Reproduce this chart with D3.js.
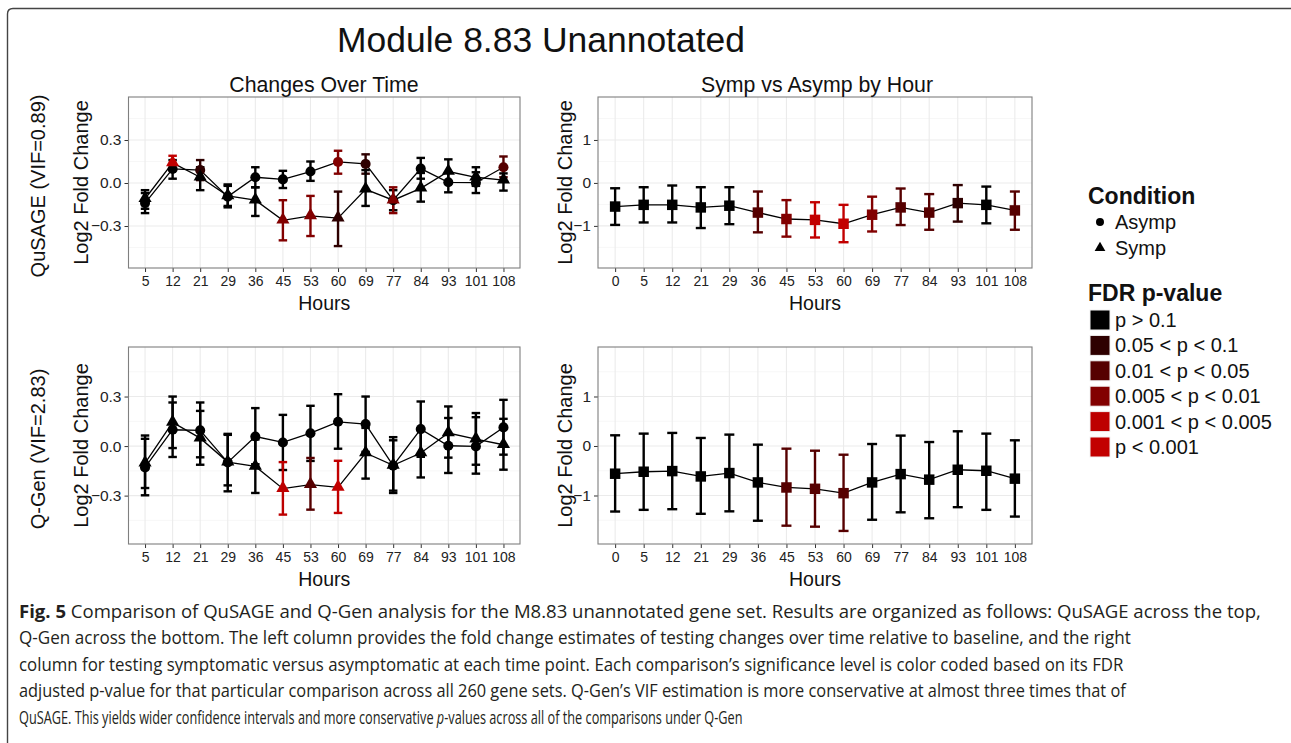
<!DOCTYPE html>
<html>
<head>
<meta charset="utf-8">
<script src="https://cdn.jsdelivr.net/npm/d3@7"></script>
<style>
  html, body { margin: 0; padding: 0; background: #fff; }
  svg { display: block; }
  text { font-family: "Liberation Sans", Arial, Helvetica, sans-serif; }
</style>
</head>
<body>
<svg id="chart" width="1291" height="743"></svg>
<script>
// ---------------- DATA ----------------
const hoursTime = [5, 12, 21, 29, 36, 45, 53, 60, 69, 77, 84, 93, 101, 108];
const hoursHour = [0, 5, 12, 21, 29, 36, 45, 53, 60, 69, 77, 84, 93, 101, 108];

const fdrLabels = ["p > 0.1", "0.05 < p < 0.1", "0.01 < p < 0.05", "0.005 < p < 0.01", "0.001 < p < 0.005", "p < 0.001"];
const fdrColors = ["#000000", "#2e0000", "#560000", "#820000", "#bd0000", "#c20000"];
const conditionLabels = ["Asymp", "Symp"];

const leftTicks = [-0.3, 0.0, 0.3];
const leftMinor = [-0.45, -0.15, 0.15, 0.45];
const rightTicks = [-1, 0, 1];
const rightMinor = [-1.5, -0.5, 0.5, 1.5];

// QuSAGE – changes over time
const quAsympEst = [-0.14, 0.098, 0.09, -0.095, 0.04, 0.025, 0.08, 0.147, 0.133, -0.12, 0.10, 0.005, 0.002, 0.11];
const quAsympLo  = [-0.21, 0.03, 0.02, -0.17, -0.03, -0.035, 0.015, 0.065, 0.065, -0.19, 0.03, -0.065, -0.07, 0.04];
const quAsympHi  = [-0.07, 0.16, 0.16, -0.02, 0.11, 0.085, 0.15, 0.225, 0.20, -0.05, 0.175, 0.075, 0.075, 0.185];
const quAsympFdr = [0, 0, 1, 0, 0, 0, 0, 3, 1, 0, 0, 0, 0, 2];

const quSympEst = [-0.11, 0.14, 0.04, -0.09, -0.12, -0.26, -0.23, -0.245, -0.044, -0.12, -0.037, 0.08, 0.04, 0.02];
const quSympLo  = [-0.18, 0.09, -0.05, -0.16, -0.23, -0.40, -0.37, -0.44, -0.16, -0.21, -0.13, 0.0, -0.02, -0.053];
const quSympHi  = [-0.05, 0.19, 0.11, -0.01, -0.03, -0.12, -0.09, -0.06, 0.09, -0.03, 0.07, 0.165, 0.11, 0.067];
const quSympFdr = [0, 5, 0, 0, 0, 3, 3, 1, 0, 3, 0, 0, 0, 0];

// Q-Gen – changes over time
const qgAsympEst = [-0.129, 0.099, 0.095, -0.099, 0.058, 0.022, 0.078, 0.147, 0.133, -0.119, 0.103, 0.002, -0.002, 0.113];
const qgAsympLo  = [-0.298, -0.066, -0.113, -0.274, -0.11, -0.145, -0.09, -0.016, -0.035, -0.284, -0.065, -0.163, -0.167, -0.052];
const qgAsympHi  = [0.044, 0.264, 0.264, 0.074, 0.23, 0.189, 0.244, 0.314, 0.30, 0.054, 0.27, 0.17, 0.175, 0.28];
const qgAsympFdr = [0, 0, 0, 0, 0, 0, 0, 0, 0, 0, 0, 0, 0, 0];

const qgSympEst = [-0.103, 0.143, 0.048, -0.097, -0.123, -0.258, -0.234, -0.25, -0.042, -0.117, -0.042, 0.079, 0.042, 0.008];
const qgSympLo  = [-0.254, -0.012, -0.068, -0.238, -0.284, -0.415, -0.385, -0.405, -0.197, -0.27, -0.19, -0.07, -0.113, -0.143];
const qgSympHi  = [0.064, 0.30, 0.213, 0.068, 0.04, -0.097, -0.072, -0.089, 0.11, 0.035, 0.105, 0.24, 0.20, 0.165];
const qgSympFdr = [0, 0, 0, 0, 0, 4, 2, 5, 0, 0, 0, 0, 0, 0];

// QuSAGE – symp vs asymp by hour
const quDiffEst = [-0.55, -0.51, -0.51, -0.57, -0.53, -0.69, -0.84, -0.86, -0.95, -0.74, -0.57, -0.69, -0.47, -0.51, -0.64];
const quDiffLo  = [-0.977, -0.92, -0.92, -1.05, -0.96, -1.15, -1.25, -1.27, -1.38, -1.13, -0.98, -1.09, -0.90, -0.94, -1.09];
const quDiffHi  = [-0.124, -0.10, -0.06, -0.10, -0.10, -0.20, -0.40, -0.45, -0.51, -0.32, -0.13, -0.26, -0.05, -0.085, -0.20];
const quDiffFdr = [0, 0, 0, 0, 0, 2, 3, 5, 5, 3, 2, 2, 1, 0, 2];

// Q-Gen – symp vs asymp by hour
const qgDiffEst = [-0.56, -0.52, -0.507, -0.615, -0.547, -0.736, -0.838, -0.865, -0.953, -0.736, -0.568, -0.68, -0.48, -0.50, -0.66];
const qgDiffLo  = [-1.324, -1.29, -1.277, -1.37, -1.32, -1.51, -1.61, -1.63, -1.716, -1.49, -1.34, -1.46, -1.236, -1.29, -1.426];
const qgDiffHi  = [0.216, 0.25, 0.264, 0.162, 0.23, 0.027, -0.054, -0.095, -0.176, 0.04, 0.21, 0.08, 0.297, 0.25, 0.115];
const qgDiffFdr = [0, 0, 0, 0, 0, 0, 2, 2, 2, 0, 0, 0, 0, 0, 0];

const captionLines = [
  [{t: "Fig. 5", b: true}, {t: " Comparison of QuSAGE and Q-Gen analysis for the M8.83 unannotated gene set. Results are organized as follows: QuSAGE across the top,"}],
  [{t: "Q-Gen across the bottom. The left column provides the fold change estimates of testing changes over time relative to baseline, and the right"}],
  [{t: "column for testing symptomatic versus asymptomatic at each time point. Each comparison\u2019s significance level is color coded based on its FDR"}],
  [{t: "adjusted p-value for that particular comparison across all 260 gene sets. Q-Gen\u2019s VIF estimation is more conservative at almost three times that of"}],
  [{t: "QuSAGE. This yields wider confidence intervals and more conservative "}, {t: "p", i: true}, {t: "-values across all of the comparisons under Q-Gen"}]
];
const captionEnds = [1262, 1131, 1124, 1127, 743];

// ---------------- DRAWING ----------------
const svg = d3.select("#chart");

// figure frame
svg.append("path")
  .attr("d", "M7.5,760 L7.5,14 Q7.5,8.5 13,8.5 L1300,8.5")
  .attr("fill", "none").attr("stroke", "#444").attr("stroke-width", 1.4);

function mkSeries(est, lo, hi, fdr) {
  return est.map((v, i) => ({ i, est: v, lo: lo[i], hi: hi[i], fdr: fdr[i] }));
}

function drawPanel(opt) {
  const g = svg.append("g");
  const x = d3.scalePoint().domain(opt.cats).range([opt.x0, opt.x1]).padding(0.6);
  const y = d3.scaleLinear().domain(opt.ydom).range([opt.y1, opt.y0]);

  g.append("rect").attr("x", opt.x0).attr("y", opt.y0)
    .attr("width", opt.x1 - opt.x0).attr("height", opt.y1 - opt.y0).attr("fill", "#fff");
  g.selectAll(".minor").data(opt.minor).enter().append("line")
    .attr("x1", opt.x0).attr("x2", opt.x1)
    .attr("y1", d => y(d)).attr("y2", d => y(d))
    .attr("stroke", "#f7f7f7").attr("stroke-width", 1);
  g.selectAll(".majy").data(opt.ticks).enter().append("line")
    .attr("x1", opt.x0).attr("x2", opt.x1)
    .attr("y1", d => y(d)).attr("y2", d => y(d))
    .attr("stroke", "#ebebeb").attr("stroke-width", 1.1);
  g.selectAll(".majx").data(opt.cats).enter().append("line")
    .attr("x1", d => x(d)).attr("x2", d => x(d))
    .attr("y1", opt.y0).attr("y2", opt.y1)
    .attr("stroke", "#ebebeb").attr("stroke-width", 1.1);

  const ax = g.append("g").attr("transform", `translate(0,${opt.y1})`)
    .call(d3.axisBottom(x).tickSize(4).tickPadding(4));
  ax.select(".domain").remove();
  ax.selectAll("line").attr("stroke", "#333");
  ax.selectAll("text").attr("font-size", 14).attr("fill", "#222")
    .style("font-family", "'Liberation Sans', Arial, sans-serif");

  const ay = g.append("g").attr("transform", `translate(${opt.x0},0)`)
    .call(d3.axisLeft(y).tickValues(opt.ticks).tickFormat(opt.fmt).tickSize(4).tickPadding(3));
  ay.select(".domain").remove();
  ay.selectAll("line").attr("stroke", "#333");
  ay.selectAll("text").attr("font-size", 15.5).attr("fill", "#222")
    .style("font-family", "'Liberation Sans', Arial, sans-serif");

  opt.series.forEach(s => {
    const eb = g.append("g");
    s.data.forEach(d => {
      const cx = x(opt.cats[d.i]);
      const c = fdrColors[d.fdr];
      eb.append("line").attr("x1", cx).attr("x2", cx).attr("y1", y(d.lo)).attr("y2", y(d.hi))
        .attr("stroke", c).attr("stroke-width", 2.4);
      [d.lo, d.hi].forEach(v => {
        eb.append("line").attr("x1", cx - opt.cap / 2).attr("x2", cx + opt.cap / 2)
          .attr("y1", y(v)).attr("y2", y(v)).attr("stroke", c).attr("stroke-width", 2.4);
      });
    });
  });
  opt.series.forEach(s => {
    const line = d3.line().x(d => x(opt.cats[d.i])).y(d => y(d.est));
    g.append("path").attr("d", line(s.data)).attr("fill", "none")
      .attr("stroke", "#000").attr("stroke-width", 1.3);
  });
  opt.series.forEach(s => {
    const sym = d3.symbol().type(s.shape).size(s.size);
    g.selectAll(null).data(s.data).enter().append("path")
      .attr("d", sym)
      .attr("transform", d => `translate(${x(opt.cats[d.i])},${y(d.est) + (s.shape === d3.symbolTriangle ? -0.5 : 0)})`)
      .attr("fill", d => fdrColors[d.fdr]);
  });

  g.append("rect").attr("x", opt.x0).attr("y", opt.y0)
    .attr("width", opt.x1 - opt.x0).attr("height", opt.y1 - opt.y0)
    .attr("fill", "none").attr("stroke", "#7f7f7f").attr("stroke-width", 1.1);

  g.append("text").attr("x", (opt.x0 + opt.x1) / 2).attr("y", opt.y1 + 42)
    .attr("text-anchor", "middle").attr("font-size", 19.5).attr("fill", "#111").text("Hours");
  g.append("text")
    .attr("transform", `translate(${opt.ytx},${(opt.y0 + opt.y1) / 2}) rotate(-90)`)
    .attr("text-anchor", "middle").attr("font-size", 20).attr("fill", "#111").text("Log2 Fold Change");
}

const fmtLeft = d3.format(".1f");
const fmtRight = d => d3.format("d")(d);

const left = { x0: 128.5, x1: 520, cats: hoursTime, ydom: [-0.593, 0.6], ticks: leftTicks, minor: leftMinor, fmt: fmtLeft, ytx: 88, cap: 8.5 };
const right = { x0: 598, x1: 1032, cats: hoursHour, ydom: [-1.98, 2.0], ticks: rightTicks, minor: rightMinor, fmt: fmtRight, ytx: 572, cap: 10 };
const rows = [{ y0: 97, y1: 268 }, { y0: 347, y1: 544 }];

const circleSize = 80, triSize = 75, sqSize = 110;

drawPanel(Object.assign({}, left, rows[0], { series: [
  { data: mkSeries(quAsympEst, quAsympLo, quAsympHi, quAsympFdr), shape: d3.symbolCircle, size: circleSize },
  { data: mkSeries(quSympEst, quSympLo, quSympHi, quSympFdr), shape: d3.symbolTriangle, size: triSize }
]}));
drawPanel(Object.assign({}, left, rows[1], { series: [
  { data: mkSeries(qgAsympEst, qgAsympLo, qgAsympHi, qgAsympFdr), shape: d3.symbolCircle, size: circleSize },
  { data: mkSeries(qgSympEst, qgSympLo, qgSympHi, qgSympFdr), shape: d3.symbolTriangle, size: triSize }
]}));
drawPanel(Object.assign({}, right, rows[0], { series: [
  { data: mkSeries(quDiffEst, quDiffLo, quDiffHi, quDiffFdr), shape: d3.symbolSquare, size: sqSize }
]}));
drawPanel(Object.assign({}, right, rows[1], { series: [
  { data: mkSeries(qgDiffEst, qgDiffLo, qgDiffHi, qgDiffFdr), shape: d3.symbolSquare, size: sqSize }
]}));

// titles
const mainTitle = svg.append("text").attr("x", 541).attr("y", 52).attr("text-anchor", "middle")
  .attr("font-size", 38.5).attr("fill", "#111").text("Module 8.83 Unannotated");
{
  const w = mainTitle.node().getComputedTextLength();
  mainTitle.attr("font-size", 38.5 * 408 / w);
}
svg.append("text").attr("x", 324).attr("y", 92).attr("text-anchor", "middle")
  .attr("font-size", 21.3).attr("fill", "#111").text("Changes Over Time");
svg.append("text").attr("x", 817).attr("y", 92).attr("text-anchor", "middle")
  .attr("font-size", 21.3).attr("fill", "#111").text("Symp vs Asymp by Hour");
svg.append("text").attr("transform", "translate(45,186) rotate(-90)").attr("text-anchor", "middle")
  .attr("font-size", 20).attr("fill", "#111").text("QuSAGE (VIF=0.89)");
svg.append("text").attr("transform", "translate(45,449) rotate(-90)").attr("text-anchor", "middle")
  .attr("font-size", 20).attr("fill", "#111").text("Q-Gen (VIF=2.83)");

// legend
const lg = svg.append("g");
lg.append("text").attr("x", 1088).attr("y", 204).attr("font-size", 23).attr("font-weight", "bold")
  .attr("fill", "#111").text("Condition");
const condShapes = [d3.symbolCircle, d3.symbolTriangle];
conditionLabels.forEach((lab, k) => {
  const cy = 222 + k * 26;
  lg.append("path").attr("d", d3.symbol().type(condShapes[k]).size(50))
    .attr("transform", `translate(1100,${cy})`).attr("fill", "#000");
  lg.append("text").attr("x", 1115).attr("y", cy + 7).attr("font-size", 20).attr("fill", "#111").text(lab);
});
lg.append("text").attr("x", 1088).attr("y", 301).attr("font-size", 23).attr("font-weight", "bold")
  .attr("fill", "#111").text("FDR p-value");
fdrLabels.forEach((lab, k) => {
  const top = 310 + k * 25.4;
  lg.append("rect").attr("x", 1090).attr("y", top).attr("width", 20).attr("height", 20)
    .attr("fill", fdrColors[k]).attr("stroke", "#f2f2f2").attr("stroke-width", 1);
  lg.append("text").attr("x", 1115).attr("y", top + 17).attr("font-size", 20).attr("fill", "#111").text(lab);
});

// caption
const cap = svg.append("g");
captionLines.forEach((parts, k) => {
  const t = cap.append("text").attr("x", 0).attr("y", 0)
    .style("font-family", "'Open Sans', 'Noto Sans', sans-serif")
    .attr("font-size", 18).attr("fill", "#231f20");
  parts.forEach(p => {
    const ts = t.append("tspan").text(p.t);
    if (p.b) ts.attr("font-weight", "bold");
    if (p.i) ts.attr("font-style", "italic");
  });
  const w = t.node().getComputedTextLength();
  const sx = (captionEnds[k] - 19) / w;
  t.attr("transform", `translate(19,${618 + k * 26.4}) scale(${sx},1)`);
});
</script>
</body>
</html>
